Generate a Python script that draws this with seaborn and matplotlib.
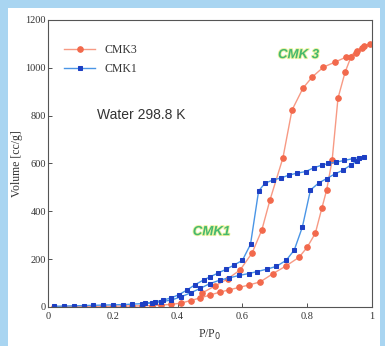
import matplotlib
matplotlib.use("Agg")
import matplotlib.pyplot as plt
import matplotlib.patheffects as pe
from matplotlib.patches import Rectangle
import pandas as pd
import seaborn as sns

# CMK1 loop: adsorption up, then desorption back down
cmk1_ads_p = [0.02, 0.05, 0.08, 0.11, 0.14, 0.17, 0.20, 0.23, 0.26, 0.29, 0.32, 0.35,
              0.38, 0.41, 0.44, 0.47, 0.50, 0.53, 0.56, 0.59, 0.62, 0.645, 0.675, 0.705,
              0.735, 0.76, 0.785, 0.81, 0.835, 0.86, 0.885, 0.91, 0.935, 0.955, 0.975]
cmk1_ads_v = [3, 4, 5, 6, 7, 8, 9, 10, 12, 14, 17, 22,
              29, 42, 59, 78, 98, 112, 122, 132, 140, 148, 158, 170,
              195, 238, 334, 489, 518, 537, 556, 572, 594, 612, 627]
cmk1_des_p = [0.96, 0.94, 0.915, 0.89, 0.865, 0.845, 0.82, 0.795, 0.77, 0.745, 0.72, 0.695,
              0.67, 0.65, 0.625, 0.60, 0.575, 0.55, 0.525, 0.50, 0.48, 0.455, 0.43, 0.405,
              0.38, 0.355, 0.33, 0.30]
cmk1_des_v = [625, 620, 613, 606, 600, 593, 582, 566, 560, 552, 540, 531,
              518, 485, 262, 195, 176, 158, 142, 126, 113, 94, 72, 52,
              38, 29, 21, 16]

# CMK3 loop
cmk3_ads_p = [0.02, 0.05, 0.08, 0.11, 0.14, 0.17, 0.20, 0.23, 0.26, 0.29, 0.32, 0.35,
              0.38, 0.41, 0.44, 0.47, 0.50, 0.53, 0.56, 0.59, 0.62, 0.655, 0.695, 0.735,
              0.775, 0.80, 0.825, 0.845, 0.86, 0.877, 0.895, 0.917, 0.935, 0.955, 0.975, 0.995]
cmk3_ads_v = [1, 1, 2, 2, 2, 3, 3, 4, 4, 5, 6, 8,
              11, 16, 27, 38, 50, 62, 72, 82, 92, 105, 140, 172,
              208, 250, 308, 412, 489, 614, 873, 982, 1045, 1072, 1090, 1100]
cmk3_des_p = [0.97, 0.95, 0.92, 0.886, 0.85, 0.815, 0.787, 0.753, 0.725, 0.685, 0.66, 0.63,
              0.593, 0.555, 0.515, 0.475]
cmk3_des_v = [1085, 1063, 1045, 1024, 1003, 961, 915, 823, 623, 447, 322, 226,
              155, 118, 88, 58]

labels = ["CMK3", "CMK1"]


def loop(name, ap, av, dp, dv):
    return pd.DataFrame({"P": ap + dp, "V": av + dv, "sample": name})


df3 = loop("CMK3", cmk3_ads_p, cmk3_ads_v, cmk3_des_p, cmk3_des_v)
df1 = loop("CMK1", cmk1_ads_p, cmk1_ads_v, cmk1_des_p, cmk1_des_v)

plt.rcParams["font.family"] = ["Liberation Serif", "DejaVu Serif"]
fig = plt.figure(figsize=(3.85, 3.46), dpi=100, facecolor="#a9d5f1")
fig.patches.append(Rectangle((8 / 385, 0), 372 / 385, 1 - 8 / 346,
                             transform=fig.transFigure, facecolor="white",
                             edgecolor="none", zorder=-10))
ax = fig.add_axes([48 / 385, 1 - 307 / 346, 324 / 385, 287 / 346])
ax.set_zorder(5)
ax.set_facecolor("white")

sns.lineplot(data=df3, x="P", y="V", sort=False, estimator=None, ax=ax,
             color="#f79a84", lw=1.0, marker="o", markersize=4,
             markerfacecolor="#f2694c", markeredgecolor="#f2694c", label=labels[0])
sns.lineplot(data=df1, x="P", y="V", sort=False, estimator=None, ax=ax,
             color="#4a95e6", lw=1.0, marker="s", markersize=3.5,
             markerfacecolor="#1d3fc4", markeredgecolor="#1d3fc4", label=labels[1])

ax.set_xlim(0, 1)
ax.set_ylim(0, 1200)
ax.set_xticks([0, 0.2, 0.4, 0.6, 0.8, 1])
ax.set_xticklabels(["0", "0.2", "0.4", "0.6", "0.8", "1"])
ax.set_yticks([0, 200, 400, 600, 800, 1000, 1200])
ax.tick_params(direction="in", length=3, width=0.6, labelsize=7.5, colors="#333333")
ax.tick_params(axis="x", pad=3.5)
ax.tick_params(axis="y", pad=1.5)
for s in ax.spines.values():
    s.set_color("#555555")
    s.set_linewidth(0.8)
ax.set_xlabel("P/P$_0$", fontsize=8.5, labelpad=5, color="#333333")
ax.set_ylabel("Volume [cc/g]", fontsize=8.5, labelpad=2, color="#333333")

leg = ax.legend(loc="upper left", bbox_to_anchor=(0.025, 0.945), frameon=False,
                fontsize=8.5, handlelength=2.6, labelspacing=0.6, borderaxespad=0.3)
for t in leg.get_texts():
    t.set_color("#333333")

ax.text(0.151, 803, "Water 298.8 K", family="Liberation Sans", fontsize=10,
        color="#333333", va="center")
glow = [pe.withStroke(linewidth=1.3, foreground="#eef3a0")]
ax.text(0.71, 1053, "CMK 3", family="Liberation Sans", fontsize=9.5, weight="bold",
        style="italic", color="#45b870", va="center", path_effects=glow)
ax.text(0.447, 313, "CMK1", family="Liberation Sans", fontsize=9.5, weight="bold",
        style="italic", color="#45b870", va="center", path_effects=glow)

fig.savefig("out.png", dpi=100, facecolor=fig.get_facecolor())
